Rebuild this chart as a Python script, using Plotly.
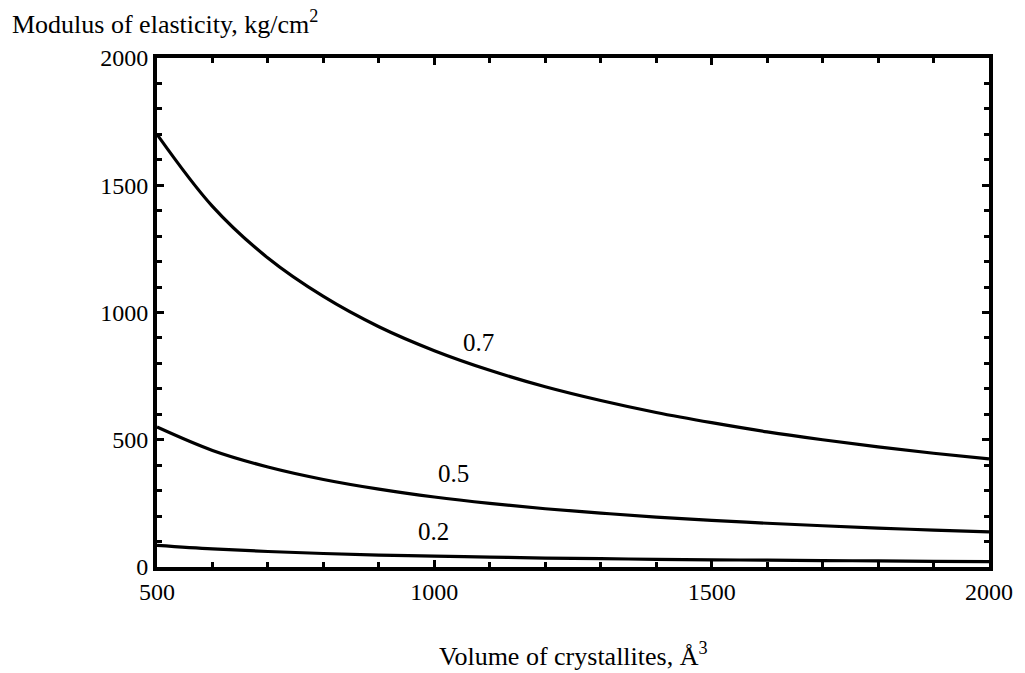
import plotly.graph_objects as go

volume = [500, 600, 700, 800, 900, 1000, 1100, 1200, 1300, 1400, 1500, 1600, 1700, 1800, 1900, 2000]
e_07 = [1700, 1417, 1214, 1063, 944, 850, 773, 708, 654, 607, 567, 531, 500, 472, 447, 425]
e_05 = [550, 458, 393, 344, 306, 275, 250, 229, 212, 196, 183, 172, 162, 153, 145, 138]
e_02 = [85, 71, 61, 53, 47, 43, 39, 35, 33, 30, 28, 27, 25, 24, 22, 21]

curve_labels = ["0.7", "0.5", "0.2"]
label_x = [1080, 1034, 998]
label_y = [884, 369, 140]

x_ticks = [500, 1000, 1500, 2000]
y_ticks = [0, 500, 1000, 1500, 2000]

FONT = "Liberation Serif"
FS = 24
TS = 26

fig = go.Figure()
for ys in (e_07, e_05, e_02):
    fig.add_trace(go.Scatter(x=volume, y=ys, mode="lines",
                             line=dict(color="black", width=3.2, shape="spline"),
                             showlegend=False, hoverinfo="skip"))

for t, lx, ly in zip(curve_labels, label_x, label_y):
    fig.add_annotation(x=lx, y=ly, text=t, showarrow=False,
                       font=dict(family=FONT, size=25, color="black"))

fig.add_annotation(xref="paper", yref="paper", x=-0.1767, y=1.0707, xanchor="left", yanchor="middle",
                   text="Modulus of elasticity, kg/cm<sup>2</sup>", showarrow=False,
                   font=dict(family=FONT, size=TS, color="black"))
fig.add_annotation(xref="paper", yref="paper", x=0.5, y=-0.171, xanchor="center", yanchor="middle",
                   text="Volume of crystallites, Å<sup>3</sup>", showarrow=False,
                   font=dict(family=FONT, size=TS, color="black"))

axis_common = dict(showline=True, linewidth=4, linecolor="black", mirror="allticks",
                   ticks="inside", ticklen=7, tickwidth=3, tickcolor="black",
                   showgrid=False, zeroline=False,
                   tickfont=dict(family=FONT, size=FS, color="black"))

fig.update_xaxes(range=[500, 2000], tickvals=x_ticks, ticktext=[str(v) for v in x_ticks],
                 minor=dict(ticks="inside", ticklen=5, tickwidth=3, tickcolor="black", dtick=100, showgrid=False),
                 **axis_common)
fig.update_yaxes(range=[0, 2000], tickvals=y_ticks, ticktext=[str(v) for v in y_ticks],
                 minor=dict(ticks="inside", ticklen=5, tickwidth=3, tickcolor="black", dtick=100, showgrid=False),
                 **axis_common)

fig.update_layout(width=1025, height=673, plot_bgcolor="white", paper_bgcolor="white",
                  margin=dict(l=157, r=25, t=58, b=106),
                  font=dict(family=FONT, size=FS, color="black"))

fig.write_html("out.html", config={"displayModeBar": False},
               post_script="document.body.style.margin='0';document.body.style.overflow='hidden';")
